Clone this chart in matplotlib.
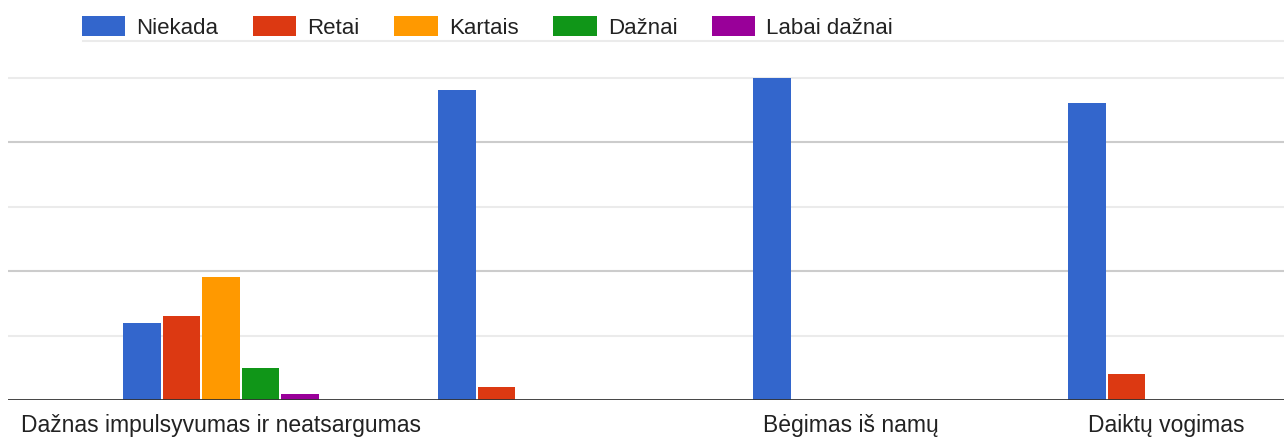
import matplotlib
matplotlib.use("Agg")
import matplotlib.pyplot as plt
from matplotlib.patches import Patch
import numpy as np

plt.rcParams["font.family"] = ["Liberation Sans", "DejaVu Sans"]

# answers per behaviour (each group sums to 50 respondents)
categories = ["Dažnas impulsyvumas ir neatsargumas", "", "Bėgimas iš namų", "Daiktų vogimas"]
series = ["Niekada", "Retai", "Kartais", "Dažnai", "Labai dažnai"]
niekada = [12, 48, 50, 46]
retai = [13, 2, 0, 4]
kartais = [19, 0, 0, 0]
daznai = [5, 0, 0, 0]
labai_daznai = [1, 0, 0, 0]
values = [niekada, retai, kartais, daznai, labai_daznai]
colors = ["#3366cc", "#dc3912", "#ff9900", "#109618", "#990099"]

W, H = 1284, 437
fig = plt.figure(figsize=(W / 100, H / 100), dpi=100)
ax = fig.add_axes([8 / W, (H - 400) / H, 1 - 8 / W, (400 - 41) / H])

x = np.arange(len(categories))
step = 39.5 / 315
width = 37.5 / 315
for i, (name, vals, c) in enumerate(zip(series, values, colors)):
    ax.bar(x + (i - 2) * step, vals, width=width, color=c, label=name, zorder=3)

ymax = (400 - 41) / 6.45
ax.set_ylim(0, ymax)
ax.set_xlim(-213 / 315, 3 + 118 / 315)

# gridlines: darker at 20/40, light at 10/30/50
for g in [10, 30, 50]:
    ax.axhline(g, color="#ebebeb", lw=1.5, zorder=1)
for g in [20, 40]:
    ax.axhline(g, color="#cccccc", lw=1.5, zorder=1)
ax.axhline(ymax, xmin=75 / (W - 8), color="#ebebeb", lw=1.5, zorder=1, clip_on=False)
ax.axhline(0, color="#333333", lw=2, zorder=4)

for s in ax.spines.values():
    s.set_visible(False)
ax.set_yticks([])
ax.set_xticks(x)
ax.set_xticklabels(categories, fontsize=16.5, color="#222222")
ax.tick_params(axis="x", length=0, pad=10)

handles = [Patch(facecolor=c, edgecolor="none") for c in colors]
fig.legend(handles, series, loc="upper left", bbox_to_anchor=(82 / W, 1 - 16 / H),
           ncol=5, frameon=False, fontsize=16, handlelength=1.95, handleheight=1.0,
           handletextpad=0.5, columnspacing=1.56, borderaxespad=0, borderpad=0,
           labelcolor="#222222")

fig.savefig("out.png", dpi=100, facecolor="white")
